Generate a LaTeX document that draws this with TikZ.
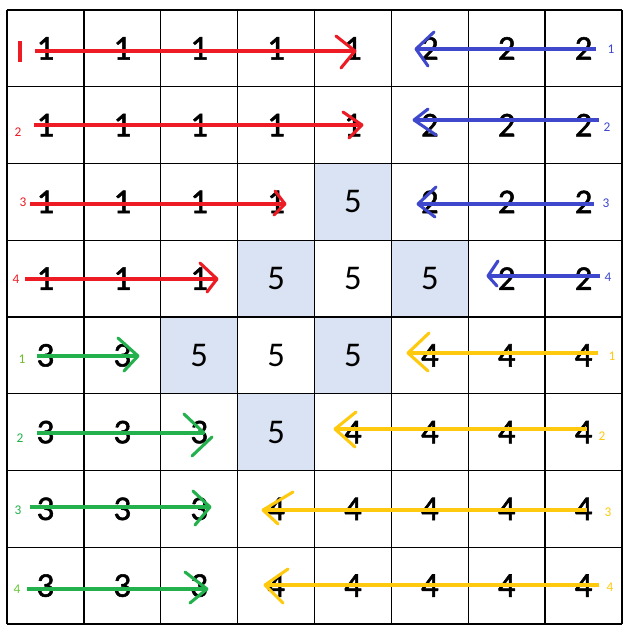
\documentclass[tikz,border=0pt]{standalone}
\usepackage{fontspec}
\setmainfont{Carlito}
\newfontfamily\heavyfig[FakeBold=1.5]{Carlito}
\definecolor{arred}{HTML}{ED1C24}
\definecolor{arblue}{HTML}{3F48CC}
\definecolor{argreen}{HTML}{22B14C}
\definecolor{aryellow}{HTML}{FFC90E}
\definecolor{cellshade}{HTML}{DAE3F3}
\tikzset{
  gridline/.style={line width=1pt, draw=black},
  digit/.style={font=\fontsize{26}{30}\selectfont, text=black, inner sep=0pt},
  arrowline/.style={line width=2.3pt, line cap=butt, line join=miter},
  headline/.style={line width=2.3pt, line cap=round},
  tag/.style={font=\fontsize{10}{12}\selectfont, inner sep=0pt},
}
\newcommand\myarrow[6]{%
  \coordinate (#2s) at (#3); \coordinate (#2t) at (#4);
  \coordinate (#2a) at (#5); \coordinate (#2b) at (#6);
  \draw[arrowline,#1] (#2s) -- (#2t);
  \draw[headline,#1] (#2a) -- (#2t);
  \draw[headline,#1] (#2b) -- (#2t);
}
\newcommand\celldigit[1]{\ifnum#1=5 #1\else{\heavyfig #1}\fi}
\begin{document}
\begin{tikzpicture}[x=0.75pt,y=-0.75pt]
\useasboundingbox (0,0) rectangle (623,626);
\fill[white] (0,0) rectangle (623,626);
\def\xo{7}\def\yo{10}\def\dx{76.875}\def\dy{76.75}
% shaded cells
\foreach \r/\c in {2/4,3/3,3/5,4/2,4/4,5/3}
  \fill[cellshade] ({\xo+\c*\dx},{\yo+\r*\dy}) rectangle ({\xo+(\c+1)*\dx},{\yo+(\r+1)*\dy});
% grid
\foreach \i in {0,...,8} {
  \draw[gridline] ({\xo+\i*\dx},\yo) -- ({\xo+\i*\dx},{\yo+8*\dy});
  \draw[gridline] (\xo,{\yo+\i*\dy}) -- ({\xo+8*\dx},{\yo+\i*\dy});
}
% digits
\foreach \rowvals [count=\r from 0] in {{1,1,1,1,1,2,2,2},{1,1,1,1,1,2,2,2},{1,1,1,1,5,2,2,2},{1,1,1,5,5,5,2,2},{3,3,5,5,5,4,4,4},{3,3,3,5,4,4,4,4},{3,3,3,4,4,4,4,4},{3,3,3,4,4,4,4,4}} {
  \foreach \v [count=\c from 0] in \rowvals {
    \node[digit] (cell-\r-\c) at ({\xo+(\c+0.5)*\dx},{\yo+(\r+0.5)*\dy}) {\celldigit{\v}};
  }
}
% red arrows
\myarrow{arred}{ra}{35,51}{355,51}{336,36}{341,68}
\myarrow{arred}{rb}{34,125}{362,125}{343,112}{349,138}
\myarrow{arred}{rc}{30,204}{285,204}{275,191}{274,215}
\myarrow{arred}{rd}{25,279}{217,279}{200,263}{207,292}
% blue arrows
\myarrow{arblue}{ba}{596,49}{416,49}{434,32}{428,66}
\myarrow{arblue}{bb}{599,120}{414,120}{428,109}{436,135}
\myarrow{arblue}{bc}{594,204}{418,204}{436,187}{435,217}
\myarrow{arblue}{bd}{600,276}{488,276}{498,261}{497,286}
% green arrows
\myarrow{argreen}{ga}{37,356}{138,356}{118,338}{124,371}
\coordinate (gbs) at (37,433); \coordinate (gbt) at (204,433);
\coordinate (gba) at (184,414); \coordinate (gbc) at (212,437); \coordinate (gbb) at (192,456);
\draw[arrowline,argreen] (gbs) -- (gbt);
\draw[headline,argreen] (gba) -- (gbt);
\draw[headline,argreen] (gbc) -- (gbb);
\myarrow{argreen}{gc}{30,507}{210,507}{193,491}{195,525}
\myarrow{argreen}{gd}{27,589}{207,589}{185,572}{190,603}
% yellow arrows
\myarrow{aryellow}{ya}{598,353}{408,353}{429,333}{428,371}
\myarrow{aryellow}{yb}{587,429}{335,429}{356,412}{355,447}
\myarrow{aryellow}{yc}{587,510}{263,510}{293,492}{278,524}
\myarrow{aryellow}{yd}{599,585}{265,585}{288,569}{283,603}
% red tags
\coordinate (rmarkA) at (20,41); \coordinate (rmarkB) at (20,62);
\draw[line width=2.3pt,arred] (rmarkA) -- (rmarkB);
\node[tag,text=arred] (rt2) at (18,132) {2};
\node[tag,text=arred] (rt3) at (23,202) {3};
\node[tag,text=arred] (rt4) at (16,279) {4};
% blue tags
\node[tag,text=arblue] (bt1) at (611,49) {1};
\node[tag,text=arblue] (bt2) at (607,127) {2};
\node[tag,text=arblue] (bt3) at (606,203) {3};
\node[tag,text=arblue] (bt4) at (608,277) {4};
% green tags
\node[tag,text=argreen!60!yellow!90!black] (gt1) at (22,359) {1};
\node[tag,text=argreen] (gt2) at (20,438) {2};
\node[tag,text=argreen] (gt3) at (18,510) {3};
\node[tag,text=argreen!70!yellow] (gt4) at (17,589) {4};
% yellow tags
\node[tag,text=aryellow] (yt1) at (612,356) {1};
\node[tag,text=aryellow] (yt2) at (602,436) {2};
\node[tag,text=aryellow] (yt3) at (608,512) {3};
\node[tag,text=aryellow] (yt4) at (610,587) {4};
\end{tikzpicture}
\end{document}
